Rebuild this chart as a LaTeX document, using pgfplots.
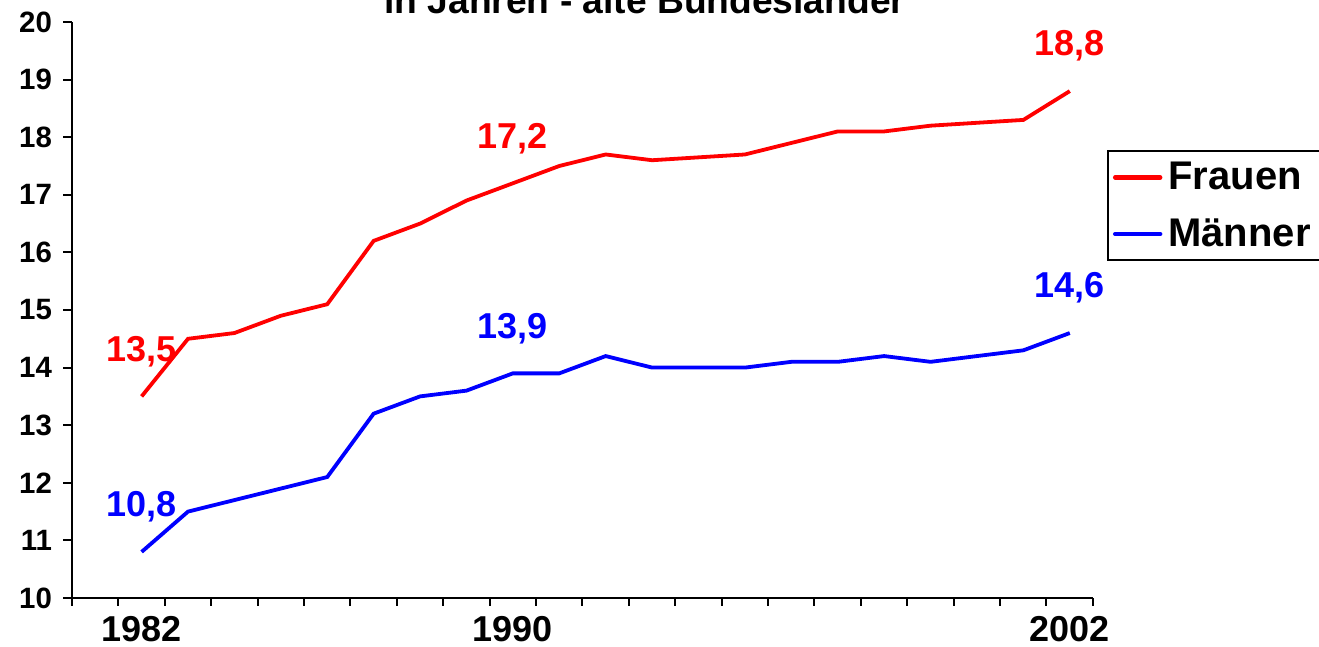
\documentclass[border=0pt]{standalone}
\usepackage{pgfplots}
\pgfplotsset{compat=1.18}
\usepackage{fontspec}
\setmainfont{Liberation Sans}
\begin{document}
\begin{tikzpicture}
\begin{axis}[
  at={(0,0)}, anchor=south west,
  scale only axis, width=510.5pt, height=288pt,
  xmin=1980.5, xmax=2002.5, ymin=10, ymax=20,
  axis x line*=bottom, axis y line*=left,
  axis line style={line width=1pt, black},
  xtick={1982,1990,2002}, xticklabels={1982,1990,2002},
  minor xtick={1980.5,1981.5,...,2002.5},
  ytick={10,11,...,20}, yticklabels={10,11,12,13,14,15,16,17,18,19,20},
  xtick pos=lower, ytick pos=left,
  tick align=outside,
  major tick length=4.5pt, minor tick length=4pt,
  major x tick style={draw=none},
  tick style={line width=1pt, black},
  xticklabel style={font=\bfseries\fontsize{18}{20}\selectfont, yshift=-1pt},
  yticklabel style={font=\bfseries\fontsize{14.7}{16}\selectfont, xshift=-2pt},
  legend style={at={(1.0137,0.7775)}, anchor=north west, draw=black, line width=1pt,
    font=\bfseries\fontsize{20}{22}\selectfont, row sep=7pt, inner sep=2.5pt,
    nodes={inner sep=3pt}},
  legend cell align=left,
  legend image code/.code={\draw[#1, line width=2.2pt, line cap=round] (0pt,0pt) -- (22.5pt,0pt);},
  clip=false,
]
\addplot[red, line width=1.9pt] coordinates {
(1982,13.5)(1983,14.5)(1984,14.6)(1985,14.9)(1986,15.1)(1987,16.2)(1988,16.5)
(1989,16.9)(1990,17.2)(1991,17.5)(1992,17.7)(1993,17.6)(1994,17.65)(1995,17.7)
(1996,17.9)(1997,18.1)(1998,18.1)(1999,18.2)(2000,18.25)(2001,18.3)(2002,18.8)};
\addlegendentry{Frauen}
\addplot[blue, line width=1.9pt] coordinates {
(1982,10.8)(1983,11.5)(1984,11.7)(1985,11.9)(1986,12.1)(1987,13.2)(1988,13.5)
(1989,13.6)(1990,13.9)(1991,13.9)(1992,14.2)(1993,14.0)(1994,14.0)(1995,14.0)
(1996,14.1)(1997,14.1)(1998,14.2)(1999,14.1)(2000,14.2)(2001,14.3)(2002,14.6)};
\addlegendentry{Männer}
\addplot[draw=none, forget plot, nodes near coords, point meta=explicit symbolic,
  every node near coord/.style={anchor=center, yshift=22.5pt, text=red,
    font=\bfseries\fontsize{18}{20}\selectfont}]
  coordinates {(1982,13.5)[13,5] (1990,17.2)[17,2] (2002,18.8)[18,8]};
\addplot[draw=none, forget plot, nodes near coords, point meta=explicit symbolic,
  every node near coord/.style={anchor=center, yshift=22.5pt, text=blue,
    font=\bfseries\fontsize{18}{20}\selectfont}]
  coordinates {(1982,10.8)[10,8] (1990,13.9)[13,9] (2002,14.6)[14,6]};
\node[anchor=base, font=\bfseries\fontsize{18.6}{20}\selectfont]
  at (rel axis cs:0.561,1.0139) {in Jahren - alte Bundesländer};
\end{axis}
\pgfresetboundingbox
\useasboundingbox (-36pt,-24.5pt) rectangle (623.5pt,299pt);
\end{tikzpicture}
\end{document}
